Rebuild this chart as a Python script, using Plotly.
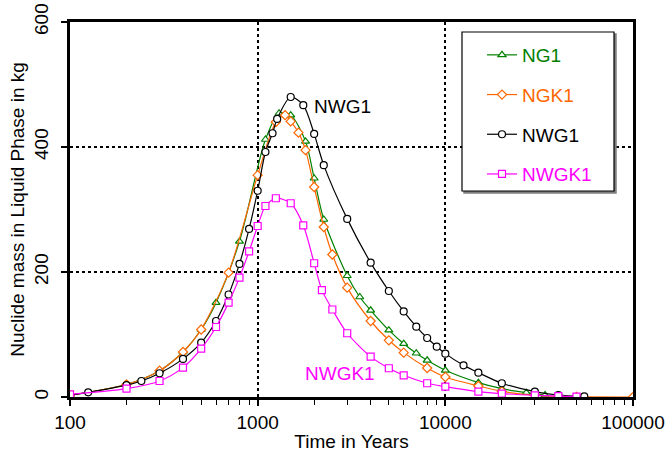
import math
import plotly.graph_objects as go

# ---- data ----
ng1_t = [100, 200, 300, 400, 500, 600, 800, 1100, 1300, 1500, 1800, 2000, 2250,
         3000, 3500, 4000, 5000, 6000, 7000, 8000, 10000, 15000, 20000, 27000, 34000]
ng1_v = [3, 20, 42, 72, 108, 151, 249, 412, 454, 451, 409, 350, 284,
         194, 160, 138.7, 107, 85.3, 70, 58.7, 42.7, 23, 13.4, 7, 3.2]

ngk1_t = [100, 200, 300, 400, 500, 700, 1000, 1250, 1400, 1500, 1650, 1800, 2000, 2250,
          2500, 3000, 4000, 5000, 6000, 8000, 10000, 15000, 20000, 30000, 40000, 50000, 100000]
ngk1_v = [3, 20, 42, 72, 108, 199, 355, 440, 451, 441, 423, 395, 336, 272,
          228, 175, 121.6, 90.7, 71, 46.4, 32, 17.6, 9, 3, 1, 0.3, 0]

nwg1_t = [100, 125, 200, 240, 300, 400, 500, 600, 700, 800, 900, 1000, 1100, 1200, 1270,
          1500, 1750, 2000, 2250, 3000, 4000, 5000, 6000, 7000, 8000, 9000, 10000,
          12500, 15000, 20000, 30000, 40000, 55000]
nwg1_v = [3, 7.5, 19, 25.6, 38, 61, 87, 121.6, 164, 213, 269, 330, 392, 422, 445,
          480, 467, 421, 371, 285, 215, 169.6, 137, 112.6, 94.4, 80.6, 69.4,
          50.7, 39, 22, 8.6, 3.2, 1]

nwgk1_t = [100, 200, 300, 400, 500, 600, 700, 800, 900, 1000, 1100, 1250, 1500, 1750,
           2000, 2200, 2500, 3000, 4000, 5000, 6000, 8000, 10000, 15000, 20000, 30000,
           40000, 50000]
nwgk1_v = [4.3, 13.4, 25.6, 47, 77.4, 112, 151, 191, 233, 273.6, 305.6, 318, 310, 274.7,
           214, 171, 140, 102, 64.6, 46, 34.7, 22, 16.6, 8.6, 5.4, 2.7, 1.5, 0.5]

x_tickvals = [100, 1000, 10000, 100000]
x_ticktext = ["100", "1000", "10000", "100000"]
y_tickvals = [0, 200, 400, 600]

FONT = "Liberation Sans, Arial, sans-serif"
GREEN = "#008000"
ORANGE = "#FF6600"
BLACK = "#000000"
MAGENTA = "#FF00FF"

series = [
    ("NG1", ng1_t, ng1_v, GREEN, "triangle-up", 7),
    ("NGK1", ngk1_t, ngk1_v, ORANGE, "diamond", 7),
    ("NWG1", nwg1_t, nwg1_v, BLACK, "circle", 7),
    ("NWGK1", nwgk1_t, nwgk1_v, MAGENTA, "square", 7),
]

fig = go.Figure()
for name, t, v, col, sym, sz in series:
    fig.add_trace(go.Scatter(
        x=t, y=v, mode="lines+markers",
        name=f"<span style='color:{col}'>{name}</span>",
        legendgroup=name,
        line=dict(color=col, width=1.2, shape="spline", smoothing=0.8),
        marker=dict(symbol=sym, size=sz, color="white", line=dict(color=col, width=1.2)),
    ))

axis_common = dict(
    showline=True, linecolor="black", linewidth=2.5, mirror=True,
    ticks="outside", tickcolor="black", tickwidth=1.5, ticklen=6,
    showgrid=True, gridcolor="black", griddash="dot", gridwidth=2,
    zeroline=False,
    tickfont=dict(family=FONT, size=19, color="black"),
)

fig.update_xaxes(
    type="log", range=[2, 5],
    tickvals=x_tickvals, ticktext=x_ticktext,
    minor=dict(ticks="outside", ticklen=5, tickwidth=1, tickcolor="black",
               dtick="D1", showgrid=False),
    title=dict(text="Time in Years", font=dict(family=FONT, size=19, color="black"), standoff=4),
    **axis_common,
)
fig.update_yaxes(
    range=[0, 600], tickvals=y_tickvals, tickangle=-90,
    ticklabelstandoff=6,
    title=dict(text="Nuclide mass in Liquid Phase in kg",
               font=dict(family=FONT, size=19, color="black"), standoff=2),
    **axis_common,
)

fig.add_annotation(x=math.log10(2820), y=465, xref="x", yref="y", text="NWG1",
                   showarrow=False, font=dict(family=FONT, size=19, color=BLACK))
fig.add_annotation(x=math.log10(2740), y=38, xref="x", yref="y", text="NWGK1",
                   showarrow=False, font=dict(family=FONT, size=19, color=MAGENTA))

W, H = 666, 459
L, R, T, B = 70, 33, 22, 62
pw, ph = W - L - R, H - T - B

def px(xp):
    return (xp - L) / pw

def py(yp):
    return (H - B - yp) / ph

# legend frame with shadow
fig.add_shape(type="rect", xref="paper", yref="paper",
              x0=px(464), x1=px(616), y0=py(193), y1=py(34),
              line=dict(color="#808080", width=1.5), fillcolor="#808080", layer="above")
fig.add_shape(type="rect", xref="paper", yref="paper",
              x0=px(462), x1=px(614), y0=py(191), y1=py(32),
              line=dict(color="black", width=1.2), fillcolor="white", layer="above")

fig.update_layout(
    width=W, height=H,
    margin=dict(l=L, r=R, t=T, b=B, autoexpand=False),
    paper_bgcolor="white", plot_bgcolor="white",
    font=dict(family=FONT, size=19, color="black"),
    showlegend=True,
    legend=dict(x=px(482), y=py(36), xanchor="left", yanchor="top",
                bgcolor="rgba(0,0,0,0)", borderwidth=0,
                font=dict(family=FONT, size=19),
                tracegroupgap=12, itemwidth=30),
)

fig.write_html("out.html")
